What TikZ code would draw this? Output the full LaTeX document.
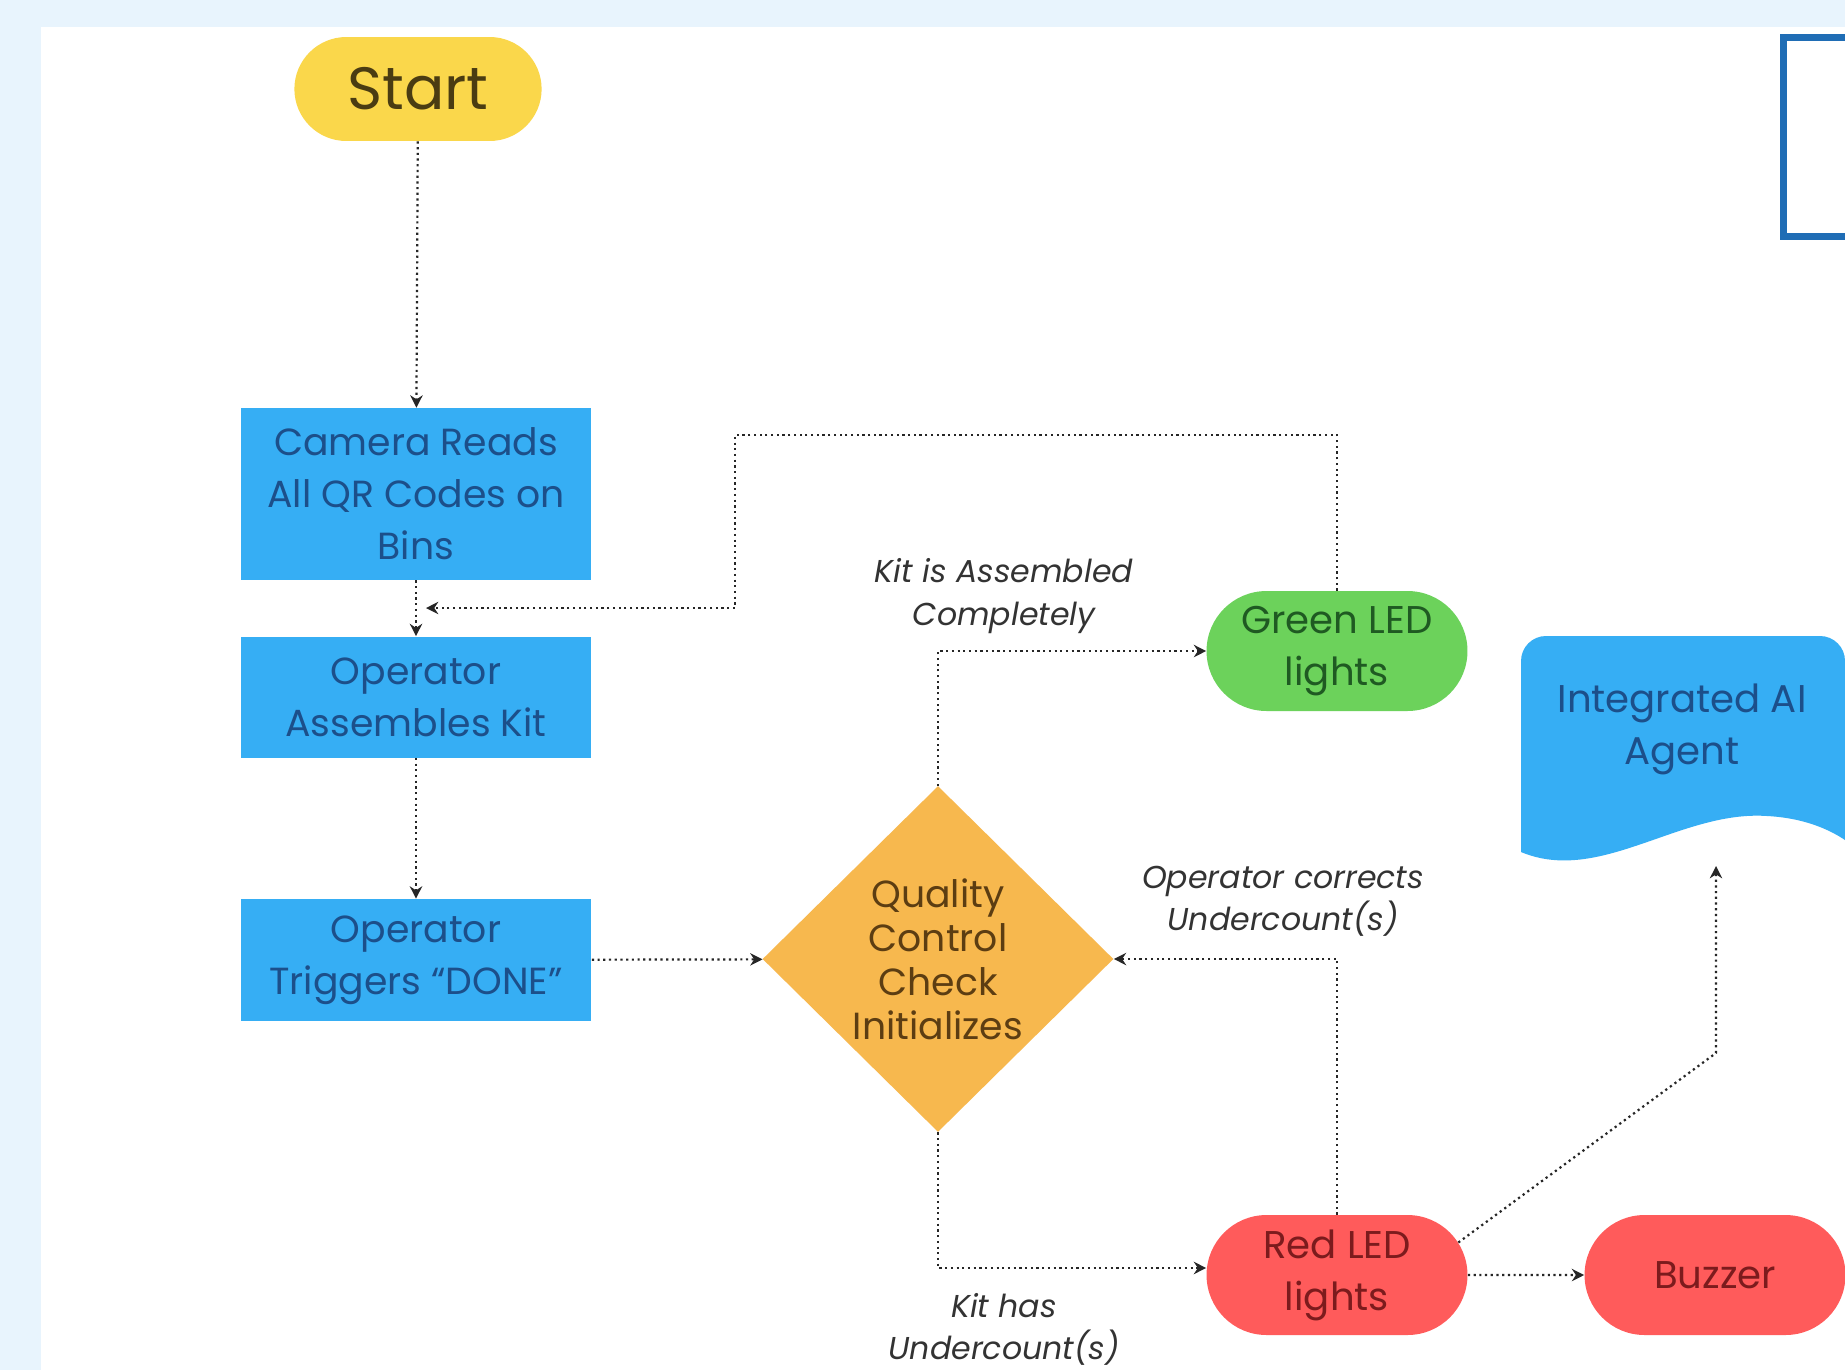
\documentclass[tikz,border=0pt]{standalone}
\usepackage{fontspec}
\setmainfont{Poppins}
\usetikzlibrary{shapes.geometric,shapes.misc,arrows.meta}
\definecolor{pagebg}{HTML}{E8F4FD}
\definecolor{startfill}{HTML}{FAD74B}
\definecolor{starttext}{HTML}{4A3C12}
\definecolor{boxblue}{HTML}{36AEF4}
\definecolor{boxtext}{HTML}{1C4F8A}
\definecolor{qcfill}{HTML}{F7B84E}
\definecolor{qctext}{HTML}{5C3D12}
\definecolor{greenfill}{HTML}{6CD25B}
\definecolor{greentext}{HTML}{1F5A22}
\definecolor{redfill}{HTML}{FF5B5B}
\definecolor{redtext}{HTML}{7C1B1D}
\definecolor{framblue}{HTML}{1F6DB5}
\begin{document}
\begin{tikzpicture}[x=0.02cm,y=-0.02cm,
    box/.style={rectangle, fill=boxblue, text=boxtext, minimum width=7.02cm, inner sep=0pt, align=center, font=\fontsize{21.5}{29.5}\selectfont},
    pill/.style={rounded rectangle, minimum width=5.22cm, minimum height=2.4cm, inner sep=0pt, align=center, font=\fontsize{22}{29.5}\selectfont},
    flow/.style={draw=black!85, dotted, line width=1.25pt, -{Stealth[length=7pt,width=7pt]}},
    note/.style={font=\itshape\fontsize{18}{24}\selectfont, align=center, text=black!80}]
        \useasboundingbox (0,0) rectangle (1845,1370);
        \fill[pagebg] (0,0) rectangle (1845,1370);
        \fill[white] (41,27) rectangle (1845,1370);
        % frame cut by the right edge
        \draw[framblue, line width=7*0.02cm] (1845,37) -- (1783,37) -- (1783,236) -- (1845,236);

        \node[rounded rectangle, fill=startfill, text=starttext, minimum width=5.18cm, minimum height=2.08cm, font=\fontsize{34}{40}\selectfont] (start) at (418,89) {Start};
        \node[box, minimum height=3.44cm] (camera) at (416,494) {Camera Reads\\All QR Codes on\\Bins};
        \node[box, minimum height=2.42cm] (assemble) at (416,697) {Operator\\Assembles Kit};
        \node[box, minimum height=2.44cm] (trigger) at (416,960) {Operator\\Triggers “DONE”};
        \node[diamond, fill=qcfill, text=qctext, inner sep=0pt, minimum width=7.02cm, minimum height=6.92cm, align=center, font=\fontsize{21.5}{25}\selectfont] (qc) at (938,959) {Quality\\Control\\Check\\Initializes};
        \node[pill, fill=greenfill, text=greentext] (green) at (1337,651) {Green LED\\lights};
        \node[pill, fill=redfill, text=redtext] (red) at (1337,1275) {Red LED\\lights};
        \node[pill, fill=redfill, text=redtext] (buzzer) at (1715,1275) {Buzzer};

        % document shape
        \fill[boxblue, rounded corners=0.5cm] (1521,852) -- (1521,636) -- (1845,636) -- (1845,700);
        \fill[boxblue] (1521,760) -- (1521,852) .. controls (1600,885) and (1680,810) .. (1767,816) .. controls (1805,818) and (1830,830) .. (1845,840) -- (1845,680) -- (1560,680) -- cycle;
        \node[text=boxtext, align=center, font=\fontsize{22}{29.5}\selectfont] (agent) at (1682,729) {Integrated AI\\Agent};

        \coordinate (join) at (426,608);
        \coordinate (loop) at (735,435);
        \coordinate (bend) at (1716,1053);
        \coordinate (agentin) at (1716,866);

        \draw[flow] (start) -- (camera);
        \draw[flow] (camera) -- (assemble);
        \draw[flow] (green.north) |- (loop) |- (join);
        \draw[flow] (assemble) -- (trigger);
        \draw[flow] (trigger) -- (qc);
        \draw[flow] (qc.north) |- (green.west);
        \draw[flow] (qc.south) |- ([yshift=4pt]red.west);
        \draw[flow] (red.north) |- (qc.east);
        \draw[flow] (red) -- (buzzer);
        \draw[flow] (red.15) -- (bend) -- (agentin);

        \node[note] (done) at (1004,596) {Kit is Assembled\\Completely};
        \node[note] (under) at (1004,1329) {Kit has\\Undercount(s)};
        \node[note] (fix) at (1283,901) {Operator corrects\\Undercount(s)};
\end{tikzpicture}
\end{document}
